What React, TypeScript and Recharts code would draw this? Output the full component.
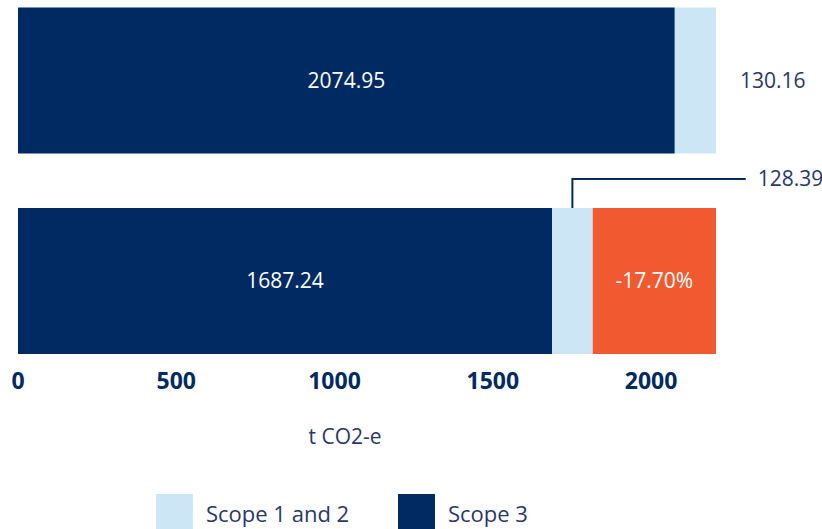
import React from 'react';
import { BarChart, Bar, XAxis, YAxis, LabelList, Legend } from 'recharts';

const categories = ['Base year', 'Current year'];
const scope3 = [2074.95, 1687.24];
const scope12 = [130.16, 128.39];
const reduction = [0, 389.48];
const reductionLabels = ['', '-17.70%'];
const xTicks = [0, 500, 1000, 1500, 2000];
const axisTitle = 't CO2-e';
const legendItems = [
  { key: 'scope12', label: 'Scope 1 and 2' },
  { key: 'scope3', label: 'Scope 3' },
];

const NAVY = '#012A62';
const LIGHT = '#CCE6F5';
const ORANGE = '#F15A31';
const TEXT = '#2B3768';
const FONT = '"Open Sans", sans-serif';
const LABEL_SIZE = 21;

const data = categories.map((c, i) => ({
  name: c,
  scope3: scope3[i],
  scope12: scope12[i],
  reduction: reduction[i],
  reductionLabel: reductionLabels[i],
}));

const colorOf: Record<string, string> = { scope12: LIGHT, scope3: NAVY };

const Tick = (props: any) => {
  const { x, y, payload } = props;
  return (
    <text x={x} y={y} dy="0.35em" textAnchor="middle" fill={NAVY} fontSize={23} fontWeight={700} fontFamily={FONT}>
      {payload.value}
    </text>
  );
};

const Scope12Label = (props: any) => {
  const vb = props.viewBox || props;
  const { x, y, width, height } = vb;
  const idx = props.index !== undefined ? props.index : scope12.indexOf(props.value);
  if (idx === 0) {
    return (
      <text x={x + width + 24} y={y + height / 2} dy="0.35em" fill={TEXT} fontSize={LABEL_SIZE} fontFamily={FONT}>
        {props.value}
      </text>
    );
  }
  const cx = x + width / 2;
  const topY = y - 29;
  const endX = x + width + 153;
  return (
    <g>
      <path d={`M${cx},${y} V${topY} H${endX}`} stroke={NAVY} strokeWidth={2} fill="none" />
      <text x={endX + 12} y={topY} dy="0.35em" fill={TEXT} fontSize={LABEL_SIZE} fontFamily={FONT}>
        {props.value}
      </text>
    </g>
  );
};

const LegendContent = () => (
  <div style={{ display: 'flex', height: 35, fontFamily: FONT }}>
    {legendItems.map((it, i) => (
      <div key={it.key} style={{ display: 'flex', alignItems: 'flex-start', width: i === 0 ? 242 : 'auto' }}>
        <div style={{ width: 37, height: 35, background: colorOf[it.key] }} />
        <div style={{ marginLeft: 13, marginTop: 7, fontSize: 22, color: TEXT, lineHeight: '24px', whiteSpace: 'nowrap' }}>{it.label}</div>
      </div>
    ))}
  </div>
);

const AxisTitle = (props: any) => {
  const vb = props.viewBox;
  return (
    <text x={vb.x + vb.width / 2 - 22} y={vb.y + 56} dy="0.35em" textAnchor="middle" fill={TEXT} fontSize={LABEL_SIZE} fontFamily={FONT}>
      {axisTitle}
    </text>
  );
};

export default function App() {
  return (
    <div style={{ position: 'absolute', left: 0, top: 0 }}>
      <BarChart
        width={822}
        height={529}
        data={data}
        layout="vertical"
        margin={{ top: -20, right: 106, left: 18, bottom: 53 }}
        barCategoryGap={27.5}
      >
        <XAxis
          type="number"
          domain={[0, 'dataMax']}
          ticks={xTicks}
          tick={<Tick />}
          tickLine={false}
          axisLine={false}
          tickSize={0}
          tickMargin={0}
          height={60}
          label={<AxisTitle />}
        />
        <YAxis type="category" dataKey="name" hide />
        <Legend
          verticalAlign="bottom"
          align="left"
          content={<LegendContent />}
          wrapperStyle={{ left: 156, bottom: 0, height: 35, width: 'auto' }}
        />
        <Bar dataKey="scope3" stackId="a" fill={NAVY} isAnimationActive={false}>
          <LabelList dataKey="scope3" position="center" fill="#FFFFFF" fontSize={LABEL_SIZE} fontFamily={FONT} />
        </Bar>
        <Bar dataKey="scope12" stackId="a" fill={LIGHT} isAnimationActive={false}>
          <LabelList dataKey="scope12" content={<Scope12Label />} />
        </Bar>
        <Bar dataKey="reduction" stackId="a" fill={ORANGE} isAnimationActive={false}>
          <LabelList dataKey="reductionLabel" position="center" fill="#FFFFFF" fontSize={LABEL_SIZE} fontFamily={FONT} />
        </Bar>
      </BarChart>
    </div>
  );
}
